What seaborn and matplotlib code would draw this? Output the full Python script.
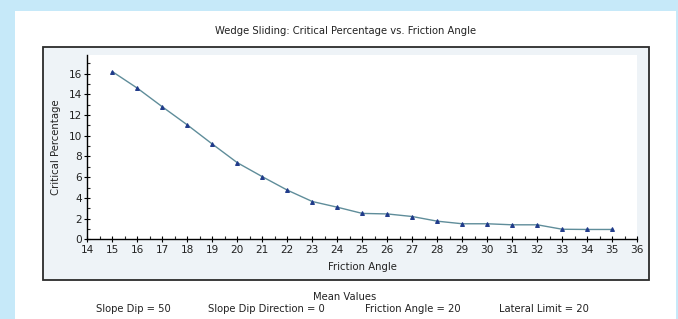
import matplotlib
matplotlib.use("Agg")
import matplotlib.pyplot as plt
import seaborn as sns
import pandas as pd
from matplotlib.patches import Rectangle
from matplotlib.ticker import MultipleLocator

# ==========================================
# DONNEES
# ==========================================
friction_angle = [15, 16, 17, 18, 19, 20, 21, 22, 23, 24, 25,
                  26, 27, 28, 29, 30, 31, 32, 33, 34, 35]
critical_pct = [16.2, 14.6, 12.8, 11.05, 9.2, 7.4, 6.05, 4.75, 3.65, 3.1, 2.5,
                2.45, 2.2, 1.75, 1.5, 1.5, 1.4, 1.4, 0.97, 0.95, 0.95]

title = "Wedge Sliding: Critical Percentage vs. Friction Angle"
mean_header = "Mean Values"
mean_items = ["Slope Dip = 50", "Slope Dip Direction = 0",
              "Friction Angle = 20", "Lateral Limit = 20"]

# ==========================================
# FIGURE
# ==========================================
sns.set_style("ticks")
plt.rcParams['font.family'] = ['DejaVu Sans']

W, H = 678, 319
fig = plt.figure(figsize=(W / 100, H / 100), dpi=100)
fig.patch.set_facecolor("#c6e9f9")

def fx(px):
    return px / W

def fy(py):
    return 1 - py / H

# panneau blanc
fig.add_artist(Rectangle((fx(15), 0), fx(676) - fx(15), fy(11),
                         transform=fig.transFigure, facecolor="white",
                         edgecolor="none", zorder=-2))
# cadre du graphique
fig.add_artist(Rectangle((fx(43), fy(280)), fx(648.5) - fx(43), fy(47) - fy(280),
                         transform=fig.transFigure, facecolor="#eef3f7",
                         edgecolor="#2b2b2b", linewidth=1.3, zorder=-1))

ax = fig.add_axes([fx(87.3), fy(239.3), fx(637.3) - fx(87.3), fy(54.5) - fy(239.3)])
ax.set_zorder(2)
ax.set_facecolor("white")

df = pd.DataFrame({"Friction Angle": friction_angle, "Critical Percentage": critical_pct})
sns.lineplot(data=df, x="Friction Angle", y="Critical Percentage", ax=ax,
             color="#5f8d9a", linewidth=1.0, marker="^", markersize=2.8,
             markerfacecolor="#1f3a8a", markeredgecolor="#1f3a8a")

ax.set_xlim(14, 36)
ax.set_ylim(0, 17.85)
ax.xaxis.set_major_locator(MultipleLocator(1))
ax.xaxis.set_minor_locator(MultipleLocator(0.5))
ax.yaxis.set_minor_locator(MultipleLocator(1))
ax.set_yticks([0, 2, 4, 6, 8, 10, 12, 14, 16])

for s in ["top", "right"]:
    ax.spines[s].set_visible(False)
for s in ["left", "bottom"]:
    ax.spines[s].set_color("black")
    ax.spines[s].set_linewidth(1.0)

ax.tick_params(axis="both", which="major", direction="inout", length=5,
               width=0.8, labelsize=7.6, colors="black", labelcolor="#222222", pad=1.5)
ax.tick_params(axis="both", which="minor", direction="in", length=2.5, width=0.8)

ax.set_xlabel("Friction Angle", fontsize=7.3, labelpad=5, color="#222222")
ax.set_ylabel("Critical Percentage", fontsize=7.3, labelpad=5, color="#222222")

fig.text(fx(346), fy(31), title, ha="center", va="center", fontsize=7.2, color="#222222")
fig.text(fx(345), fy(297), mean_header, ha="center", va="center", fontsize=7.2, color="#222222")
for xpos, txt in zip([96, 208, 365, 499], mean_items):
    fig.text(fx(xpos), fy(309), txt, ha="left", va="center", fontsize=7.2, color="#222222")

fig.savefig("out.png", dpi=100, facecolor=fig.get_facecolor())
